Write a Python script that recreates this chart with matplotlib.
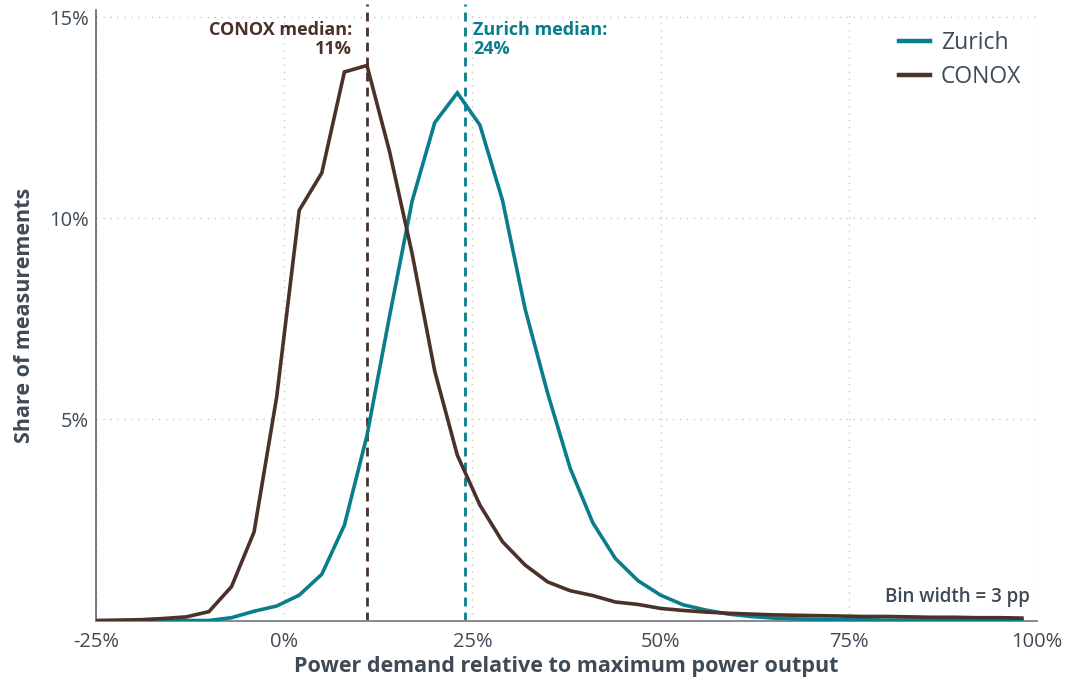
import numpy as np
import matplotlib
matplotlib.use("Agg")
import matplotlib.pyplot as plt

plt.rcParams['font.family'] = ['Open Sans', 'DejaVu Sans']

# ---- data (bin centres in percentage points, share of measurements in %) ----
bins = [-25, -22, -19, -16, -13, -10, -7, -4, -1, 2, 5, 8, 11, 14, 17, 20, 23, 26,
        29, 32, 35, 38, 41, 44, 47, 50, 53, 56, 59, 62, 65, 68, 71, 74, 77, 80,
        83, 86, 89, 92, 95, 98]

conox = [0.00, 0.01, 0.02, 0.05, 0.09, 0.22, 0.84, 2.20, 5.55, 10.20, 11.13, 13.64,
         13.80, 11.66, 9.12, 6.20, 4.11, 2.87, 1.96, 1.38, 0.96, 0.74, 0.62, 0.46,
         0.40, 0.30, 0.25, 0.21, 0.18, 0.16, 0.14, 0.13, 0.12, 0.11, 0.10, 0.10,
         0.09, 0.08, 0.08, 0.07, 0.07, 0.06]

zurich = [np.nan, np.nan, 0.00, 0.00, 0.00, 0.00, 0.07, 0.23, 0.36, 0.63, 1.15, 2.37,
          4.60, 7.57, 10.43, 12.38, 13.12, 12.32, 10.45, 7.75, 5.65, 3.78, 2.43, 1.54,
          0.99, 0.63, 0.39, 0.26, 0.16, 0.10, 0.06, 0.04, 0.03, 0.02, 0.02, 0.01,
          0.01, 0.01, 0.01, 0.00, 0.00, 0.00]

medians = {"Zurich": 24, "CONOX": 11}
median_labels = {"Zurich": "Zurich median:\n24%", "CONOX": "CONOX median:\n11%"}

x_ticks = [-25, 0, 25, 50, 75, 100]
x_tick_labels = ["-25%", "0%", "25%", "50%", "75%", "100%"]
y_ticks = [5, 10, 15]
y_tick_labels = ["5%", "10%", "15%"]

# ---- styling ----
TEAL = "#0a7d8c"
BROWN = "#4b3129"
TEXT = "#3e4a56"
GRID = "#c9c9c9"

fig = plt.figure(figsize=(10.65, 6.8), dpi=100)
ax = fig.add_axes([0.0901, 0.0875, 0.8836, 0.8978])

ax.set_xlim(-25, 100)
ax.set_ylim(0, 15.18)

ax.set_xticks(x_ticks)
ax.set_xticklabels(x_tick_labels)
ax.set_yticks(y_ticks)
ax.set_yticklabels(y_tick_labels)
ax.grid(True, color=GRID, linestyle=(0, (1, 4)), linewidth=1.0)
ax.set_axisbelow(True)
ax.tick_params(axis='both', length=0, labelsize=14.5, colors=TEXT, pad=5)
ax.tick_params(axis='x', pad=8)

for s in ["top", "right"]:
    ax.spines[s].set_visible(False)
ax.spines["left"].set_color("#5b636b")
ax.spines["left"].set_linewidth(1.2)
ax.spines["bottom"].set_color("#858a90")
ax.spines["bottom"].set_linewidth(1.4)

# median lines
ax.axvline(medians["CONOX"], color=BROWN, linestyle=(0, (3.2, 2.2)), linewidth=2.0,
           ymax=1.01, clip_on=False, zorder=2)
ax.axvline(medians["Zurich"], color=TEAL, linestyle=(0, (3.2, 2.2)), linewidth=2.0,
           ymax=1.01, clip_on=False, zorder=2)

# distributions
ax.plot(bins, zurich, color=TEAL, linewidth=2.6, label="Zurich", zorder=3,
        solid_joinstyle='miter')
ax.plot(bins, conox, color=BROWN, linewidth=2.6, label="CONOX", zorder=4,
        solid_joinstyle='miter')

# median annotations
ax.text(medians["CONOX"] - 2.0, 14.9, median_labels["CONOX"], ha="right", va="top",
        fontsize=13, fontweight="bold", color=BROWN, linespacing=1.05)
ax.text(medians["Zurich"] + 1.1, 14.9, median_labels["Zurich"], ha="left", va="top",
        fontsize=13, fontweight="bold", color=TEAL, linespacing=1.05)

# bin width note
ax.text(99.0, 0.33, "Bin width = 3 pp", ha="right", va="bottom", fontsize=13.5,
        fontweight="semibold", color=TEXT)

# legend
leg = ax.legend(loc="upper right", bbox_to_anchor=(1.005, 1.0), frameon=False,
                fontsize=16.5, handlelength=1.35, handletextpad=0.45, labelspacing=0.45)
for t in leg.get_texts():
    t.set_color(TEXT)
for h in leg.get_lines():
    h.set_linewidth(3.2)

ax.set_xlabel("Power demand relative to maximum power output", fontsize=15.5,
              fontweight="bold", color=TEXT, labelpad=3)
ax.set_ylabel("Share of measurements", fontsize=15.5, fontweight="bold", color=TEXT,
              labelpad=10)

fig.savefig("out.png", dpi=100)
